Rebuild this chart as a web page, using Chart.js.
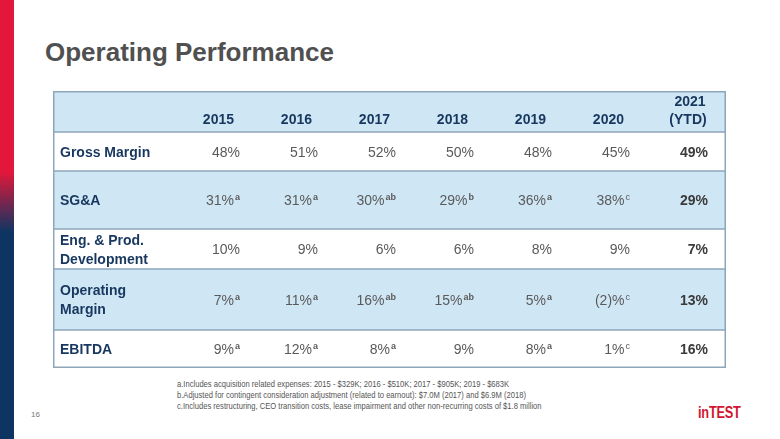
<!DOCTYPE html>
<html>
<head>
<meta charset="utf-8">
<script src="https://cdn.jsdelivr.net/npm/chart.js@4"></script>
<style>
  html, body { margin: 0; padding: 0; background: #fff; }
  body { width: 780px; height: 439px; position: relative; overflow: hidden; font-family: "Liberation Sans", Arial, sans-serif; }
  .side { position: absolute; left: 0; top: 0; width: 14px; height: 439px;
          background: linear-gradient(to bottom, #e2173a 0px, #e2173a 172px, #0e3562 232px, #0e3562 439px); }
  .title { position: absolute; left: 45px; top: 37px; font-size: 26px; font-weight: bold; color: #505050; white-space: nowrap; }
  .table { position: absolute; left: 53px; top: 91px; width: 673px; height: 277px; }
  .notes { position: absolute; left: 177px; top: 378px; font-family: "Liberation Sans Narrow", "Arial Narrow", "Liberation Sans", sans-serif;
           font-size: 9.5px; line-height: 11px; color: #555; white-space: nowrap;
           transform: scaleX(0.8); transform-origin: 0 0; }
  .page { position: absolute; left: 31px; top: 410px; font-size: 8px; color: #777; }
  .logo { position: absolute; left: 698px; top: 404px; font-family: "Liberation Sans Narrow", "Arial Narrow", "Liberation Sans", sans-serif;
          font-weight: bold; font-size: 16px; color: #d2152f; letter-spacing: -0.3px;
          transform: scaleX(0.8); transform-origin: 0 0; }
</style>
</head>
<body>
<div class="side"></div>
<div class="title">Operating Performance</div>
<div class="table"><canvas id="chart" width="673" height="277"></canvas></div>
<div class="notes">
  a.Includes acquisition related expenses: 2015 - $329K; 2016 - $510K; 2017 - $905K; 2019 - $683K<br>
  b.Adjusted for contingent consideration adjustment (related to earnout): $7.0M (2017) and $6.9M (2018)<br>
  c.Includes restructuring, CEO transition costs, lease impairment and other non-recurring costs of $1.8 million
</div>
<div class="page">16</div>
<div class="logo">inTEST</div>

<script>
const years = [['2015'], ['2016'], ['2017'], ['2018'], ['2019'], ['2020'], ['2021', '(YTD)']];

const metrics = [['Gross Margin'], ['SG&A'], ['Eng. & Prod.', 'Development'], ['Operating', 'Margin'], ['EBITDA']];

const grossMargin = [48, 51, 52, 50, 48, 45, 49];
const sga = [31, 31, 30, 29, 36, 38, 29];
const engDev = [10, 9, 6, 6, 8, 9, 7];
const opMargin = [7, 11, 16, 15, 5, -2, 13];
const ebitda = [9, 12, 8, 9, 8, 1, 16];

const grossNotes = ['', '', '', '', '', '', ''];
const sgaNotes = ['a', 'a', 'ab', 'b', 'a', 'c', ''];
const engNotes = ['', '', '', '', '', '', ''];
const opNotes = ['a', 'a', 'ab', 'ab', 'a', 'c', ''];
const ebitdaNotes = ['a', 'a', 'a', '', 'a', 'c', ''];

const rows = [grossMargin, sga, engDev, opMargin, ebitda];
const rowNotes = [grossNotes, sgaNotes, engNotes, opNotes, ebitdaNotes];

// layout (pixels): header row then one row per metric
const rowHeights = [41, 39, 58, 40, 61, 38];
const labelCol = 127 / 78;   // label column width in column units
const fills = ['#cfe6f5', '#ffffff', '#cfe6f5', '#ffffff', '#cfe6f5', '#ffffff'];

const rowTop = [0];
rowHeights.forEach((h, i) => rowTop.push(rowTop[i] + h));
const total = rowTop[rowTop.length - 1];

function fmt(v) {
    return v < 0 ? '(' + (-v) + ')%' : v + '%';
}

const datasets = rows.map((vals, r) => ({
    data: vals.map((v, i) => ({ x: i + 0.5, y: rowTop[r + 1] + rowHeights[r + 1] / 2 })),
    pointRadius: 0
}));

const tablePlugin = {
    id: 'table',
    beforeDatasetsDraw(chart) {
        const ctx = chart.ctx;
        const x = chart.scales.x;
        const y = chart.scales.y;
        const left = x.getPixelForValue(-labelCol);
        const right = x.getPixelForValue(years.length);

        ctx.save();
        // row bands
        rowHeights.forEach((h, i) => {
            const t = y.getPixelForValue(rowTop[i]);
            const b = y.getPixelForValue(rowTop[i + 1]);
            ctx.fillStyle = fills[i];
            ctx.fillRect(left, t, right - left, b - t);
        });
        // row lines
        ctx.strokeStyle = '#8ea6ba';
        ctx.lineWidth = 1.5;
        rowTop.forEach(v => {
            const p = Math.max(0.75, Math.min(total - 0.75, v));
            ctx.beginPath();
            ctx.moveTo(left, y.getPixelForValue(p));
            ctx.lineTo(right, y.getPixelForValue(p));
            ctx.stroke();
        });
        ctx.beginPath();
        ctx.moveTo(left + 0.75, y.getPixelForValue(0));
        ctx.lineTo(left + 0.75, y.getPixelForValue(total));
        ctx.moveTo(right - 0.75, y.getPixelForValue(0));
        ctx.lineTo(right - 0.75, y.getPixelForValue(total));
        ctx.stroke();

        // header
        ctx.fillStyle = '#17375e';
        ctx.font = 'bold 14px "Liberation Sans", Arial, sans-serif';
        ctx.textBaseline = 'alphabetic';
        years.forEach((lines, i) => {
            const colRight = x.getPixelForValue(i + 1);
            const base = y.getPixelForValue(rowTop[1]) - 8;
            if (lines.length > 1) {
                ctx.textAlign = 'center';
                const cx = colRight - 38;
                lines.forEach((s, k) => ctx.fillText(s, cx + (k === 0 ? 2 : 0), base - (lines.length - 1 - k) * 18));
            } else {
                ctx.textAlign = 'right';
                ctx.fillText(lines[0], colRight - 24, base);
            }
        });

        // row labels
        ctx.textAlign = 'left';
        metrics.forEach((lines, r) => {
            const mid = y.getPixelForValue(rowTop[r + 1] + rowHeights[r + 1] / 2);
            lines.forEach((s, k) => {
                ctx.fillText(s, left + 7, mid + 5 + (k - (lines.length - 1) / 2) * 19);
            });
        });
        ctx.restore();
    },
    afterDatasetsDraw(chart) {
        const ctx = chart.ctx;
        const x = chart.scales.x;
        ctx.save();
        ctx.textBaseline = 'alphabetic';
        ctx.textAlign = 'left';
        chart.data.datasets.forEach((ds, r) => {
            const meta = chart.getDatasetMeta(r);
            meta.data.forEach((pt, i) => {
                const last = i === years.length - 1;
                const main = fmt(rows[r][i]);
                const note = rowNotes[r][i];
                const mainFont = (last ? 'bold ' : '') + '14px "Liberation Sans", Arial, sans-serif';
                const noteFont = (note === 'c' ? '' : 'bold ') + '9px "Liberation Sans", Arial, sans-serif';
                ctx.font = mainFont;
                const w1 = ctx.measureText(main).width;
                ctx.font = noteFont;
                const w2 = note ? ctx.measureText(note).width + 1 : 0;
                const end = x.getPixelForValue(i + 1) - 18;
                const start = end - w1 - w2;
                const base = pt.y + 5;
                ctx.font = mainFont;
                ctx.fillStyle = last ? '#3a3a3a' : '#5a5a5a';
                ctx.fillText(main, start, base);
                if (note) {
                    ctx.font = noteFont;
                    ctx.fillText(note, start + w1 + 1, base - 5);
                }
            });
        });
        ctx.restore();
    }
};

new Chart(document.getElementById('chart'), {
    type: 'scatter',
    data: { datasets: datasets },
    options: {
        responsive: false,
        animation: false,
        events: [],
        layout: { padding: 0 },
        plugins: { legend: { display: false }, tooltip: { enabled: false } },
        scales: {
            x: { type: 'linear', min: -labelCol, max: years.length, display: false },
            y: { type: 'linear', min: 0, max: total, reverse: true, display: false }
        }
    },
    plugins: [tablePlugin]
});
</script>
</body>
</html>
